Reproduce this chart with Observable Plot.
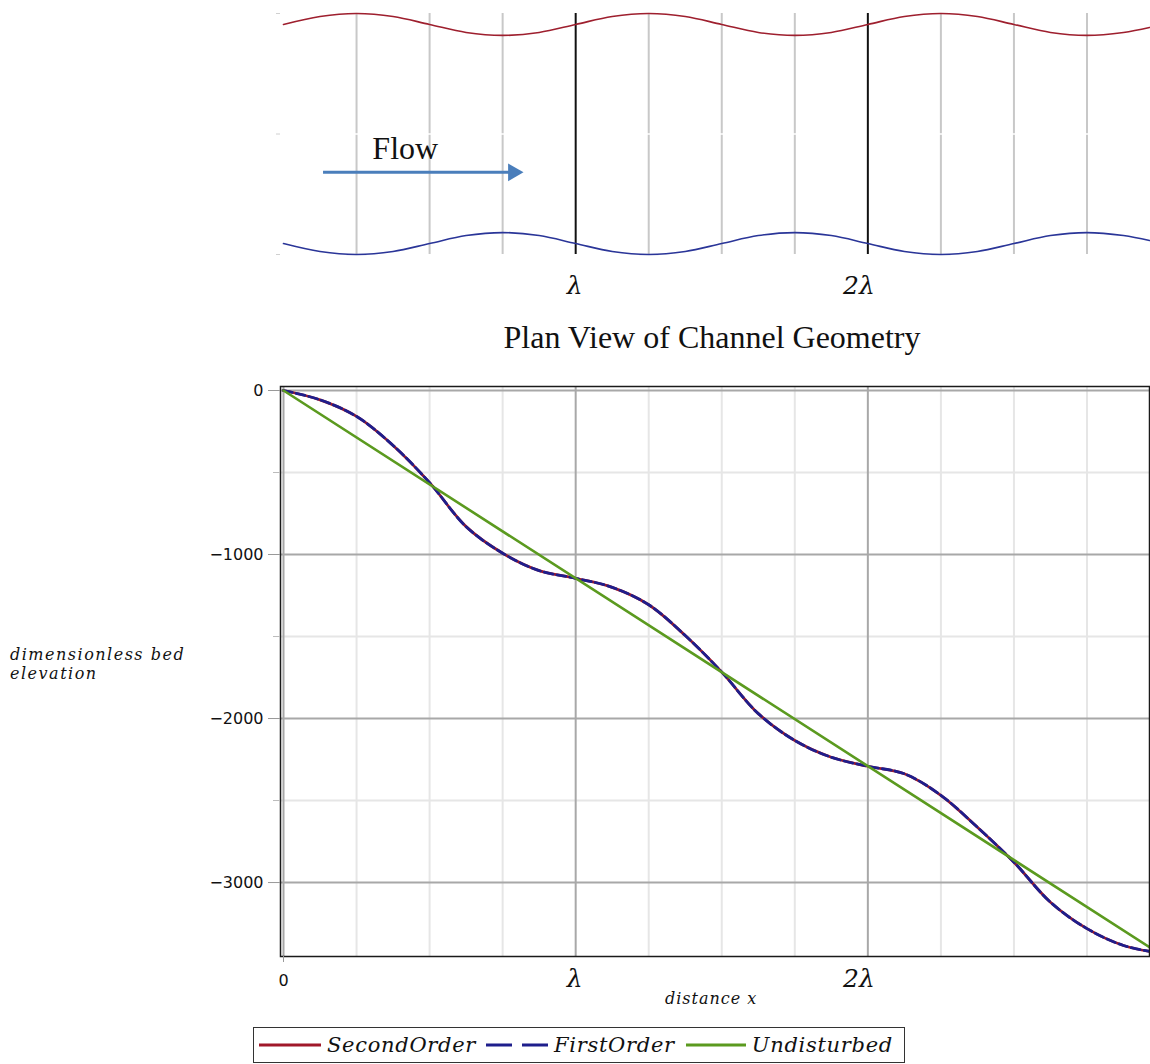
<!DOCTYPE html>
<html>
<head>
<meta charset="utf-8">
<script src="https://cdn.jsdelivr.net/npm/d3@7"></script>
<script src="https://cdn.jsdelivr.net/npm/@observablehq/plot@0.6"></script>
<style>
  body { margin: 0; background: #fff; }
  #wrap { position: relative; width: 1150px; height: 1064px; overflow: hidden; background: #fff; }
  .abs { position: absolute; }
  #planTitle { left: 312px; width: 800px; top: 321px; text-align: center; font-family: "Liberation Serif", serif; font-size: 32px; line-height: 32px; color: #111; white-space: nowrap; }
  #ylab { left: 10px; top: 645px; font-family: "DejaVu Serif", serif; font-style: italic; font-size: 16px; line-height: 19px; letter-spacing: 1.5px; color: #111; white-space: nowrap; }
  #xlab { left: 665px; top: 989px; font-family: "DejaVu Serif", serif; font-style: italic; font-size: 16px; line-height: 20px; letter-spacing: 1px; color: #111; white-space: nowrap; }
  #legend { left: 253px; top: 1027px; width: 650px; height: 34px; border: 1.5px solid #333; display: flex; align-items: center; font-family: "DejaVu Serif", serif; font-style: italic; font-size: 21px; letter-spacing: 0.7px; color: #111; white-space: nowrap; }
  #legend .item { display: flex; align-items: center; }
  #legend svg { display: block; }
</style>
</head>
<body>
<div id="wrap">
  <div id="plan" class="abs" style="left:0;top:0;"></div>
  <div id="planTitle" class="abs">Plan View of Channel Geometry</div>
  <div id="bed" class="abs" style="left:0;top:360px;"></div>
  <div id="ylab" class="abs">dimensionless bed<br>elevation</div>
  <div id="xlab" class="abs">distance x</div>
  <div id="legend" class="abs"></div>
</div>
<script>
// ---------- data (x in wavelengths λ) ----------
const xs = [0, 0.125, 0.25, 0.375, 0.5, 0.625, 0.75, 0.875,
            1, 1.125, 1.25, 1.375, 1.5, 1.625, 1.75, 1.875,
            2, 2.125, 2.25, 2.375, 2.5, 2.625, 2.75, 2.875, 2.964];

// plan view: channel walls (offset from centreline, arbitrary units)
const topWall = [110, 118, 121, 118, 110, 102, 99, 102,
                 110, 118, 121, 118, 110, 102, 99, 102,
                 110, 118, 121, 118, 110, 102, 99, 102, 107];
const bottomWall = [-110, -118, -121, -118, -110, -102, -99, -102,
                    -110, -118, -121, -118, -110, -102, -99, -102,
                    -110, -118, -121, -118, -110, -102, -99, -102, -107];

// bed elevation profiles
const secondOrder = [0, -57, -158, -335, -562, -830, -992, -1098,
                     -1145, -1200, -1306, -1494, -1717, -1970, -2134, -2236,
                     -2291, -2337, -2468, -2663, -2876, -3120, -3281, -3384, -3420];
const firstOrder  = [0, -57, -158, -335, -562, -830, -992, -1098,
                     -1145, -1200, -1306, -1494, -1717, -1970, -2134, -2236,
                     -2291, -2337, -2468, -2663, -2876, -3120, -3281, -3384, -3420];
const undisturbedX = [0, 2.964];
const undisturbedY = [0, -3394];

// series / legend
const seriesNames  = ["SecondOrder", "FirstOrder", "Undisturbed"];
const seriesColors = ["#A0182A", "#1E1E8C", "#5B9A1F"];
const seriesDashes = [null, "9,4", null];

// ticks
const yMajor = [0, -1000, -2000, -3000];
const yMinor = [-500, -1500, -2500];
const xMajor = [0, 1, 2];
const xMinor = [0.25, 0.5, 0.75, 1.25, 1.5, 1.75, 2.25, 2.5, 2.75];
const lambdaLabels = [{x: 1, label: "λ"}, {x: 2, label: "2λ"}];
const planBlack = [1, 2];
const planGray = [0.25, 0.5, 0.75, 1.25, 1.5, 1.75, 2.25, 2.5, 2.75];
const planTicks = [-121, 0, 121];

// flow annotation (plan units)
const flowText = [{x: 0.304, y: -25.5, label: "Flow"}];
const flowArrow = [{x1: 0.137, x2: 0.775, tip: 0.8205, y: -38.5}];

const xDomain = [-0.0103, 2.964];

// ---------- plan view ----------
const walls = xs.map((x, i) => ({x, top: topWall[i], bottom: bottomWall[i]}));
const plan = Plot.plot({
  width: 1150, height: 310,
  marginLeft: 280, marginRight: 1, marginTop: 13, marginBottom: 56,
  x: {domain: xDomain, axis: null},
  y: {domain: [-121, 121], axis: null},
  style: {background: "#fff", color: "#111"},
  marks: [
    Plot.ruleX(planGray, {stroke: "#c8c8c8", strokeWidth: 2}),
    Plot.ruleY([0], {stroke: "#fff", strokeWidth: 1.5}),
    Plot.ruleX(planBlack, {stroke: "#111", strokeWidth: 2}),
    Plot.axisY(planTicks, {tickSize: 4, stroke: "#d0d0d0", tickFormat: () => "", label: null}),
    Plot.line(walls, {x: "x", y: "top", stroke: "#9E1F2E", strokeWidth: 1.6, curve: "catmull-rom"}),
    Plot.line(walls, {x: "x", y: "bottom", stroke: "#2A3598", strokeWidth: 1.6, curve: "catmull-rom"}),
    Plot.ruleY(flowArrow, {x1: "x1", x2: "x2", y: "y", stroke: "#4A7EBB", strokeWidth: 3}),
    Plot.dot(flowArrow, {x: "tip", y: "y", symbol: "triangle", rotate: 90, r: 6.6, dx: -10, fill: "#4A7EBB", stroke: "none"}),
    Plot.text(flowText, {x: "x", y: "y", text: "label", textAnchor: "start", lineAnchor: "bottom",
      fontFamily: "Liberation Serif", fontSize: 32, fill: "#111"}),
    Plot.text(lambdaLabels, {x: "x", text: "label", frameAnchor: "bottom", dy: 39, dx: 7, textAnchor: "end",
      fontFamily: "DejaVu Serif", fontStyle: "italic", fontSize: 25, fill: "#111"})
  ]
});
document.getElementById("plan").appendChild(plan);

// ---------- bed elevation ----------
const bedData = xs.map((x, i) => ({x, second: secondOrder[i], first: firstOrder[i]}));
const undisturbed = undisturbedX.map((x, i) => ({x, y: undisturbedY[i]}));
const fmt = d => d === 0 ? "0" : "\u2212" + Math.abs(d);

const bed = Plot.plot({
  width: 1150, height: 656,
  marginLeft: 280, marginRight: 1, marginTop: 26, marginBottom: 60,
  x: {domain: xDomain},
  y: {domain: [-3451, 24.4]},
  style: {background: "#fff", color: "#111", fontFamily: "DejaVu Sans", fontSize: "16px"},
  marks: [
    Plot.gridY(yMinor, {stroke: "#e6e6e6", strokeOpacity: 1, strokeWidth: 2}),
    Plot.gridX(xMinor, {stroke: "#e6e6e6", strokeOpacity: 1, strokeWidth: 2}),
    Plot.gridY(yMajor, {stroke: "#a8a8a8", strokeOpacity: 1, strokeWidth: 2}),
    Plot.gridX(xMajor, {stroke: "#a8a8a8", strokeOpacity: 1, strokeWidth: 2}),
    Plot.line(bedData, {x: "x", y: "second", stroke: seriesColors[0], strokeWidth: 2.8, curve: "catmull-rom"}),
    Plot.line(bedData, {x: "x", y: "first", stroke: seriesColors[1], strokeWidth: 2.8, strokeDasharray: seriesDashes[1], curve: "catmull-rom"}),
    Plot.line(undisturbed, {x: "x", y: "y", stroke: seriesColors[2], strokeWidth: 2.6}),
    Plot.frame({stroke: "#1a1a1a", strokeWidth: 1.5}),
    Plot.axisY(yMajor, {tickSize: 12, tickPadding: 5, stroke: "#999", tickFormat: fmt, label: null}),
    Plot.axisY(yMinor, {tickSize: 7, stroke: "#bbb", tickFormat: () => "", label: null}),
    Plot.axisX([0], {tickSize: 6, tickPadding: 12, stroke: "#999", tickFormat: () => "0", label: null}),
    Plot.text(lambdaLabels, {x: "x", text: "label", frameAnchor: "bottom", dy: 30, dx: 7, textAnchor: "end",
      fontFamily: "DejaVu Serif", fontStyle: "italic", fontSize: 25, fill: "#111"})
  ]
});
document.getElementById("bed").appendChild(bed);

// ---------- legend ----------
const legend = document.getElementById("legend");
const swatchW = [62, 62, 60];
const gaps = [5, 10, 11];
seriesNames.forEach((name, i) => {
  const item = document.createElement("div");
  item.className = "item";
  item.style.marginLeft = gaps[i] + "px";
  const ns = "http://www.w3.org/2000/svg";
  const s = document.createElementNS(ns, "svg");
  s.setAttribute("width", swatchW[i]); s.setAttribute("height", 10);
  const l = document.createElementNS(ns, "line");
  l.setAttribute("x1", 0); l.setAttribute("x2", swatchW[i]);
  l.setAttribute("y1", 5); l.setAttribute("y2", 5);
  l.setAttribute("stroke", seriesColors[i]); l.setAttribute("stroke-width", 3);
  if (seriesDashes[i]) l.setAttribute("stroke-dasharray", "26,10");
  s.appendChild(l);
  const t = document.createElement("span");
  t.textContent = name;
  t.style.marginLeft = "6px";
  item.appendChild(s); item.appendChild(t);
  legend.appendChild(item);
});
</script>
</body>
</html>
